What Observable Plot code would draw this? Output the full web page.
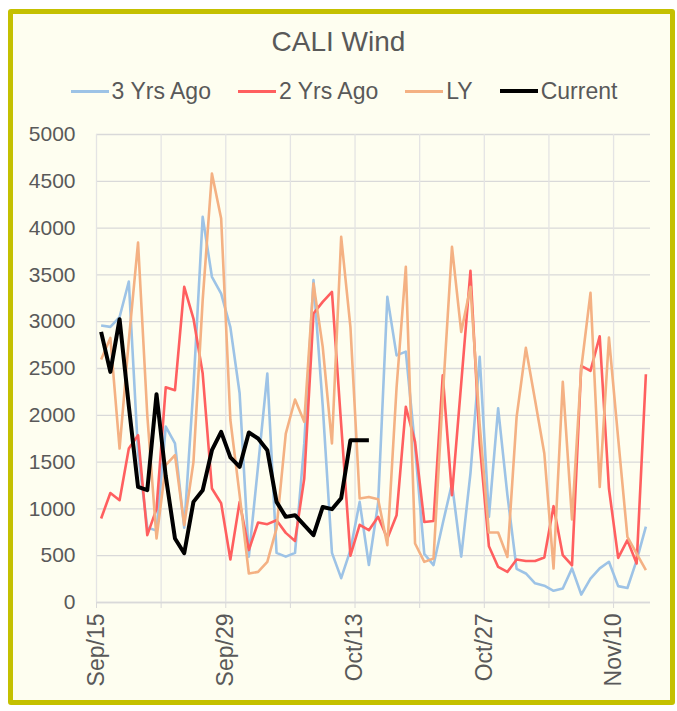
<!DOCTYPE html>
<html>
<head>
<meta charset="utf-8">
<script src="https://cdn.jsdelivr.net/npm/d3@7"></script>
<script src="https://cdn.jsdelivr.net/npm/@observablehq/plot@0.6"></script>
<style>
  html, body { margin: 0; padding: 0; background: #ffffff; }
  body { width: 677px; height: 711px; position: relative; overflow: hidden; font-family: "Liberation Sans", Arial, sans-serif; }
  #frame { position: absolute; left: 8px; top: 9px; width: 667px; height: 696px; box-sizing: border-box;
           border: 5px solid #C4C000; border-radius: 3px; background: #FEFEF0; }
  #title { position: absolute; left: 0; width: 677px; top: 26px; text-align: center; font-size: 28px; color: #595959; line-height: 32px; }
  #legend { position: absolute; left: 0; width: 677px; top: 77px; display: flex; justify-content: center; gap: 27px;
            font-size: 23px; line-height: 28px; color: #595959; padding-left: 11px; box-sizing: border-box; }
  .item { display: flex; align-items: center; gap: 3px; }
  .sw { display: inline-block; width: 38px; height: 0; border-top-style: solid; }
  #chart { position: absolute; left: 0; top: 110px; }
</style>
</head>
<body>
<div id="frame"></div>
<div id="title">CALI Wind</div>
<div id="legend"></div>
<div id="chart"></div>
<script>
// ---- data (daily, starting Sep 15) ----
const startDate = [2023, 8, 15];
const seriesNames = ["3 Yrs Ago", "2 Yrs Ago", "LY", "Current"];
const seriesColors = ["#9DC3E6", "#FF5F5F", "#F4B183", "#000000"];
const seriesWidths = [2.6, 2.6, 2.6, 4];

const threeYrsAgo = [2960, 2945, 3050, 3430, 1600, 800, 770, 1880, 1700, 800,
  2300, 4120, 3480, 3300, 2940, 2235, 490, 1460, 2446, 530,
  490, 530, 1700, 3445, 2100, 530, 260, 560, 1075, 400,
  1060, 3265, 2640, 2680, 1660, 520, 400, 845, 1270, 490,
  1380, 2625, 915, 2075, 1150, 360, 310, 205, 180, 125,
  150, 365, 85, 255, 365, 435, 175, 155, 450, 810];

const twoYrsAgo = [897, 1170, 1093, 1645, 1787, 720, 1000, 2300, 2268, 3372,
  3034, 2446, 1218, 1060, 460, 1075, 560, 855, 837, 879,
  744, 658, 1325, 3087, 3212, 3318, 1900, 500, 830, 773,
  915, 684, 933, 2090, 1716, 860, 870, 2428, 1146, 2340,
  3543, 1700, 600, 380, 327, 459, 444, 444, 481, 1029,
  505, 398, 2528, 2474, 2845, 1218, 477, 666, 417, 2439];

const lastYear = [2596, 2827, 1645, 2800, 3846, 2000, 684, 1467, 1574, 826,
  1500, 3230, 4583, 4103, 1950, 1150, 310, 327, 434, 791,
  1805, 2169, 1930, 3408, 2731, 1699, 3906, 2944, 1111, 1128,
  1104, 612, 2300, 3586, 630, 434, 470, 2200, 3799, 2891,
  3372, 1900, 748, 748, 487, 1983, 2720, 2161, 1592, 363,
  2357, 887, 2500, 3308, 1235, 2831, 1750, 701, 523, 345];

const current = [2891, 2464, 3027, 2100, 1235, 1200, 2225, 1350, 684, 526,
  1075, 1200, 1627, 1823, 1550, 1449, 1816, 1752, 1627, 1075,
  915, 933, 826, 719, 1021, 997, 1114, 1734, 1734, 1734];

const yTicks = [0, 500, 1000, 1500, 2000, 2500, 3000, 3500, 4000, 4500, 5000];
const xLabelDays = [0, 14, 28, 42, 56];     // Sep/15, Sep/29, Oct/13, Oct/27, Nov/10
const xGridDays = [0, 7, 14, 21, 28, 35, 42, 49, 56];
const totalDays = 60;

// ---- build table ----
const dayDate = (i, h = 0) => new Date(Date.UTC(startDate[0], startDate[1], startDate[2] + i, h));
const allSeries = [threeYrsAgo, twoYrsAgo, lastYear, current];
const rows = [];
allSeries.forEach((vals, s) => vals.forEach((v, i) => rows.push({series: seriesNames[s], date: dayDate(i, 12), value: v})));

// ---- legend ----
const legend = document.getElementById("legend");
seriesNames.forEach((n, i) => {
  const it = document.createElement("div"); it.className = "item";
  const sw = document.createElement("span"); sw.className = "sw";
  sw.style.borderTopColor = seriesColors[i]; sw.style.borderTopWidth = (i === 3 ? 4 : 3) + "px";
  const t = document.createElement("span"); t.textContent = n;
  it.appendChild(sw); it.appendChild(t); legend.appendChild(it);
});

// ---- chart ----
const fmt = d3.utcFormat("%b/%d");
const labelSet = new Set(xLabelDays.map(d => +dayDate(d)));
const chart = Plot.plot({
  width: 677, height: 595,
  marginLeft: 96, marginRight: 27, marginTop: 24, marginBottom: 103,
  style: {background: "transparent", fontFamily: "'Liberation Sans', Arial, sans-serif", color: "#595959"},
  x: {type: "utc", domain: [dayDate(0), dayDate(totalDays)]},
  y: {domain: [0, 5000]},
  marks: [
    Plot.gridY(yTicks, {stroke: "#D9D9D9", strokeOpacity: 1, strokeWidth: 1.3}),
    Plot.gridX(xGridDays.map(d => dayDate(d)), {stroke: "#E4E4E4", strokeOpacity: 1, strokeWidth: 1.3}),
    Plot.ruleY([0], {stroke: "#D9D9D9", strokeWidth: 1.5}),
    Plot.axisY(yTicks, {tickSize: 0, tickPadding: 21, fontSize: 21, fill: "#595959", label: null, tickFormat: d => String(d)}),
    Plot.axisX(xGridDays.map(d => dayDate(d)), {
      tickSize: 6, tickPadding: 5, tickRotate: -90, fontSize: 23,
      stroke: "#D9D9D9", fill: "#595959", label: null,
      tickFormat: d => labelSet.has(+d) ? fmt(d) : ""
    }),
    ...seriesNames.map((n, i) => Plot.line(rows.filter(r => r.series === n), {
      x: "date", y: "value", stroke: seriesColors[i], strokeWidth: seriesWidths[i],
      strokeLinejoin: "round", strokeLinecap: "butt"
    }))
  ]
});
document.getElementById("chart").appendChild(chart);
</script>
</body>
</html>
